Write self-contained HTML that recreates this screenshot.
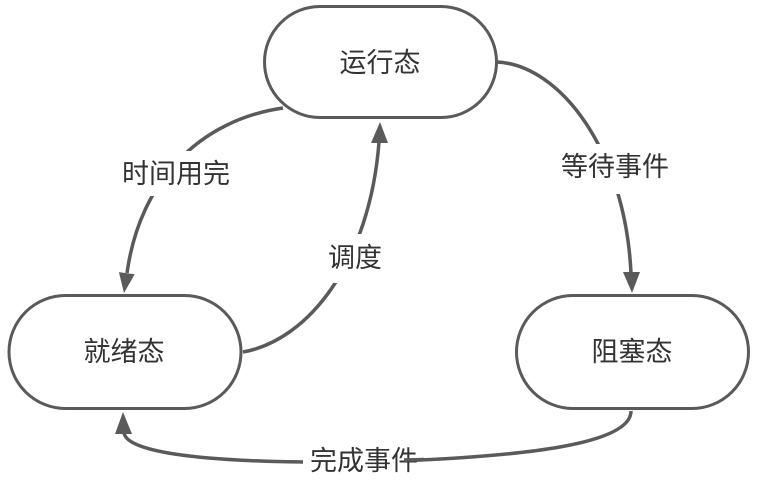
<!DOCTYPE html>
<html><head><meta charset="utf-8"><style>
html,body{margin:0;padding:0;background:#fff;}
svg{display:block;}
text{font-family:"Liberation Sans","Noto Sans CJK SC",sans-serif;font-size:27px;fill:#333;}
</style></head><body>
<svg width="760" height="489" viewBox="0 0 760 489" xmlns="http://www.w3.org/2000/svg">
<g fill="none" stroke="#5a5a5a" stroke-width="3.5" stroke-linecap="butt">
<path d="M283,108 C200,120 140,180 127,273"/>
<path d="M243,352 C310,340 370,260 379,142"/>
<path d="M497,62 C560,65 625,150 631,273"/>
<path d="M631,411 C631,445 520,456 400,461 C250,465 128,458 124,433"/>
</g>
<g fill="#5a5a5a">
<polygon points="124,293 134.7,274.3 118.9,272.1"/>
<polygon points="380,122 388,143 371,143"/>
<polygon points="632,293 640,272 623,272"/>
<polygon points="123,412 132,434 115,434"/>
</g>
<g fill="#fff" stroke="#5a5a5a" stroke-width="3">
<rect x="264.5" y="6.5" width="232" height="111" rx="55.5"/>
<rect x="9" y="295.5" width="232" height="113" rx="56.5"/>
<rect x="516.5" y="295.5" width="232" height="113" rx="56.5"/>
</g>
<g fill="#fff">
<rect x="120" y="151" width="111" height="45"/>
<rect x="327" y="234" width="56" height="49"/>
<rect x="558" y="144" width="114" height="50"/>
<rect x="303" y="446" width="109" height="32"/>
</g>
<g text-anchor="middle" dominant-baseline="central">
<text x="380" y="63">运行态</text>
<text x="124" y="352">就绪态</text>
<text x="632" y="352">阻塞态</text>
<text x="176" y="174">时间用完</text>
<text x="355" y="258">调度</text>
<text x="615" y="167">等待事件</text>
<text x="364" y="461">完成事件</text>
</g>
<path d="M404,460 L424,459.5" fill="none" stroke="#5a5a5a" stroke-width="3.5"/>
</svg>
</body></html>
